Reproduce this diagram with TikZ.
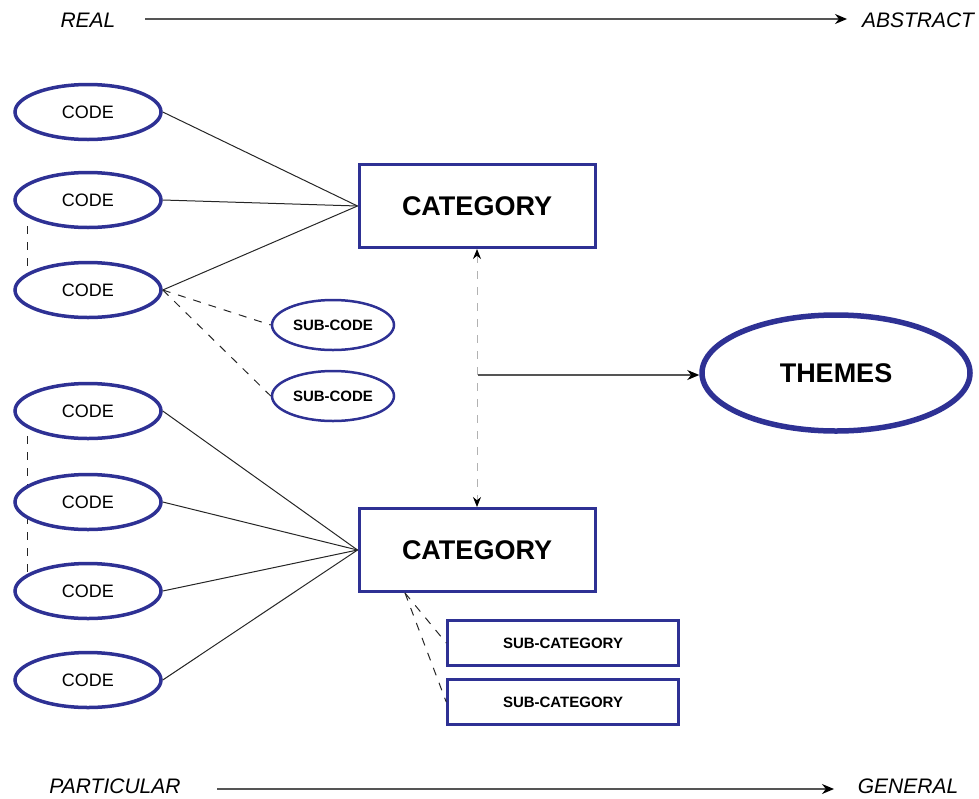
\documentclass[tikz,border=0pt]{standalone}
\usepackage{fontspec}
\setmainfont{Liberation Sans}
\usetikzlibrary{shapes.geometric,arrows.meta}
\definecolor{eblue}{HTML}{2E3194}
\definecolor{axisgray}{HTML}{555555}
\tikzset{
  codeell/.style={ellipse,draw=eblue,line width=3.5pt,fill=white,minimum width=146pt,minimum height=55pt,inner sep=0pt,font=\fontsize{18}{20}\selectfont},
  subell/.style={ellipse,draw=eblue,line width=2.5pt,fill=white,minimum width=122pt,minimum height=50pt,inner sep=0pt,font=\bfseries\fontsize{15}{17}\selectfont},
  catbox/.style={rectangle,draw=eblue,line width=3pt,fill=white,minimum width=236pt,minimum height=83pt,inner sep=0pt,font=\bfseries\fontsize{27}{29}\selectfont},
  subcat/.style={rectangle,draw=eblue,line width=2.5pt,fill=white,minimum width=231pt,minimum height=45pt,inner sep=0pt,font=\bfseries\fontsize{15}{17}\selectfont},
  themeell/.style={ellipse,draw=eblue,line width=5.5pt,fill=white,minimum width=268pt,minimum height=116pt,inner sep=0pt,font=\bfseries\fontsize{27}{29}\selectfont},
  axislabel/.style={font=\itshape\fontsize{21}{23}\selectfont,inner sep=0pt},
  axisarrow/.style={draw=axisgray,line width=1.3pt,-{Stealth[length=12pt,width=10pt,black]}},
  link/.style={draw=black!85,line width=1pt},
  dlink/.style={draw=black!85,line width=1pt,dash pattern=on 8pt off 8pt},
  vdash/.style={draw=black!30,line width=1pt,dash pattern=on 8pt off 8pt},
}
\begin{document}
\begin{tikzpicture}[x=1pt,y=-1pt]
\useasboundingbox (0,0) rectangle (979,798);
% axis labels
\node[axislabel] (real) at (88,20) {REAL};
\node[axislabel] (abstract) at (918,20) {ABSTRACT};
\node[axislabel] (part) at (115,786) {PARTICULAR};
\node[axislabel] (gen) at (908,786) {GENERAL};
\coordinate (ta) at (145,19);
\coordinate (tb) at (847,19);
\coordinate (ba) at (217,789);
\coordinate (bb) at (834,789);
\draw[axisarrow] (ta) -- (tb);
\draw[axisarrow] (ba) -- (bb);
% left vertical dashed lines
\coordinate (v1a) at (27,226);
\coordinate (v1b) at (27,270);
\coordinate (v2a) at (27,436);
\coordinate (v2b) at (27,572);
\draw[dlink] (v1a) -- (v1b);
\draw[dlink] (v2a) -- (v2b);
% codes
\node[codeell] (c1) at (88,112) {CODE};
\node[codeell] (c2) at (88,200) {CODE};
\node[codeell] (c3) at (88,290) {CODE};
\node[codeell] (c4) at (88,411) {CODE};
\node[codeell] (c5) at (88,502) {CODE};
\node[codeell] (c6) at (88,591) {CODE};
\node[codeell] (c7) at (88,680) {CODE};
% categories
\node[catbox] (cat1) at (477,206) {CATEGORY};
\node[catbox] (cat2) at (477,550) {CATEGORY};
% sub-codes
\node[subell] (s1) at (333,325) {SUB-CODE};
\node[subell] (s2) at (333,396) {SUB-CODE};
% sub-categories
\node[subcat] (sc1) at (563,643) {SUB-CATEGORY};
\node[subcat] (sc2) at (563,702) {SUB-CATEGORY};
% themes
\node[themeell] (th) at (836,373) {THEMES};
% links code -> category
\foreach \c in {c1,c2,c3} \draw[link] (\c.east) -- (cat1.west);
\foreach \c in {c4,c5,c6,c7} \draw[link] (\c.east) -- (cat2.west);
% code3 -> subcodes
\draw[dlink] (c3.east) -- (s1.west);
\draw[dlink] (c3.east) -- (s2.west);
% category2 -> subcategories
\coordinate (c2b) at ([xshift=-72pt]cat2.south);
\draw[dlink] (c2b) -- (sc1.west);
\draw[dlink] (c2b) -- (sc2.west);
% vertical dashed double arrow
\draw[vdash,{Stealth[length=10pt,width=8pt,black]}-{Stealth[length=10pt,width=8pt,black]}] (cat1.south) -- (cat2.north);
\coordinate (mid) at (478,375);
\draw[axisarrow,line width=1.1pt] (mid) -- (mid -| th.west);
\end{tikzpicture}
\end{document}
